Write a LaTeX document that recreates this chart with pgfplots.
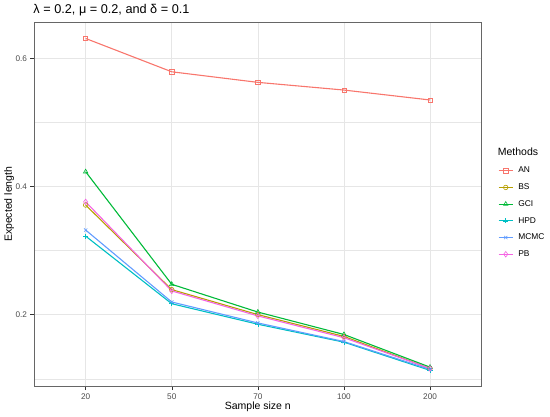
\documentclass[border=0pt]{standalone}
\usepackage{pgfplots}
\pgfplotsset{compat=1.18}
\usepackage{fontspec}
\setmainfont{Liberation Sans}
\definecolor{cAN}{HTML}{F8766D}
\definecolor{cBS}{HTML}{B79F00}
\definecolor{cGCI}{HTML}{00BA38}
\definecolor{cHPD}{HTML}{00BFC4}
\definecolor{cMCMC}{HTML}{619CFF}
\definecolor{cPB}{HTML}{F564E3}
\definecolor{grid92}{HTML}{E6E6E6}
\definecolor{grey20}{HTML}{333333}
\definecolor{grey30}{HTML}{4D4D4D}
\begin{document}
\begin{tikzpicture}
\path[use as bounding box] (-34pt,-29.3pt) rectangle (516pt,386.7pt);
\begin{axis}[
  at={(0pt,0pt)}, anchor=south west,
  scale only axis, width=447.7pt, height=364.7pt,
  xmin=-0.6, xmax=4.6, ymin=0.0875, ymax=0.6567,
  xtick={0,1,2,3,4}, xticklabels={20,50,70,100,200},
  ytick={0.2,0.4,0.6}, minor ytick={0.1,0.3,0.5},
  yticklabel style={/pgf/number format/.cd, fixed, precision=1, fixed zerofill},
  /pgf/number format/assume math mode=true,
  ticklabel style={font=\fontsize{8.2}{9}\selectfont, text=grey30},
  tick align=outside, major tick length=3.5pt, minor tick length=0pt,
  tick style={color=grey20, line width=0.5pt},
  xtick pos=bottom, ytick pos=left,
  grid=major, ymajorgrids=true, xmajorgrids=true, yminorgrids=true,
  major grid style={color=grid92, line width=0.6pt},
  minor grid style={color=grid92, line width=0.35pt},
  axis line style={color=black!60, line width=0.6pt},
  every axis plot/.append style={line width=1.1pt},
  legend style={at={(1.0364,0.603)}, anchor=north west, draw=none, fill=none,
    inner sep=0pt, row sep=9.2pt, column sep=5pt,
    nodes={inner sep=0pt, text height=6pt, text depth=1.5pt, anchor=west},
    font=\fontsize{8.4}{9}\selectfont},
  legend cell align=left,
  legend image code/.code={\draw[mark repeat=2,mark phase=2,#1] plot coordinates {(0pt,0pt) (7pt,0pt) (14pt,0pt)};},
]
\addplot[cAN, mark=square, mark size=2.1pt, mark options={line width=0.6pt}] coordinates {(0,0.631) (1,0.579) (2,0.5625) (3,0.5505) (4,0.535)};
\addlegendentry{AN}
\addplot[cBS, mark=o, mark size=2.3pt, mark options={line width=0.6pt}] coordinates {(0,0.371) (1,0.239) (2,0.200) (3,0.166) (4,0.116)};
\addlegendentry{BS}
\addplot[cGCI, mark=triangle, mark size=2.6pt, mark options={line width=0.6pt}] coordinates {(0,0.423) (1,0.2473) (2,0.204) (3,0.169) (4,0.118)};
\addlegendentry{GCI}
\addplot[cHPD, mark=+, mark size=2.6pt, mark options={line width=0.6pt}] coordinates {(0,0.3225) (1,0.217) (2,0.185) (3,0.157) (4,0.113)};
\addlegendentry{HPD}
\addplot[cMCMC, mark=x, mark size=2.3pt, mark options={line width=0.6pt}] coordinates {(0,0.332) (1,0.2197) (2,0.187) (3,0.158) (4,0.1145)};
\addlegendentry{MCMC}
\addplot[cPB, mark=diamond, mark size=2.8pt, mark options={line width=0.6pt}] coordinates {(0,0.376) (1,0.237) (2,0.198) (3,0.164) (4,0.116)};
\addlegendentry{PB}
\end{axis}
\node[anchor=base west, font=\fontsize{12.7}{14}\selectfont, inner sep=0pt] at (-0.7pt,373.4pt) {λ = 0.2, μ = 0.2, and δ = 0.1};
\node[anchor=base, font=\fontsize{10.5}{12}\selectfont, inner sep=0pt] at (223.85pt,-22.8pt) {Sample size n};
\node[anchor=base, rotate=90, font=\fontsize{10.5}{12}\selectfont, inner sep=0pt] at (-22pt,182.4pt) {Expected length};
\node[anchor=base west, font=\fontsize{10.5}{12}\selectfont, inner sep=0pt] at (463.7pt,231pt) {Methods};
\end{tikzpicture}
\end{document}
